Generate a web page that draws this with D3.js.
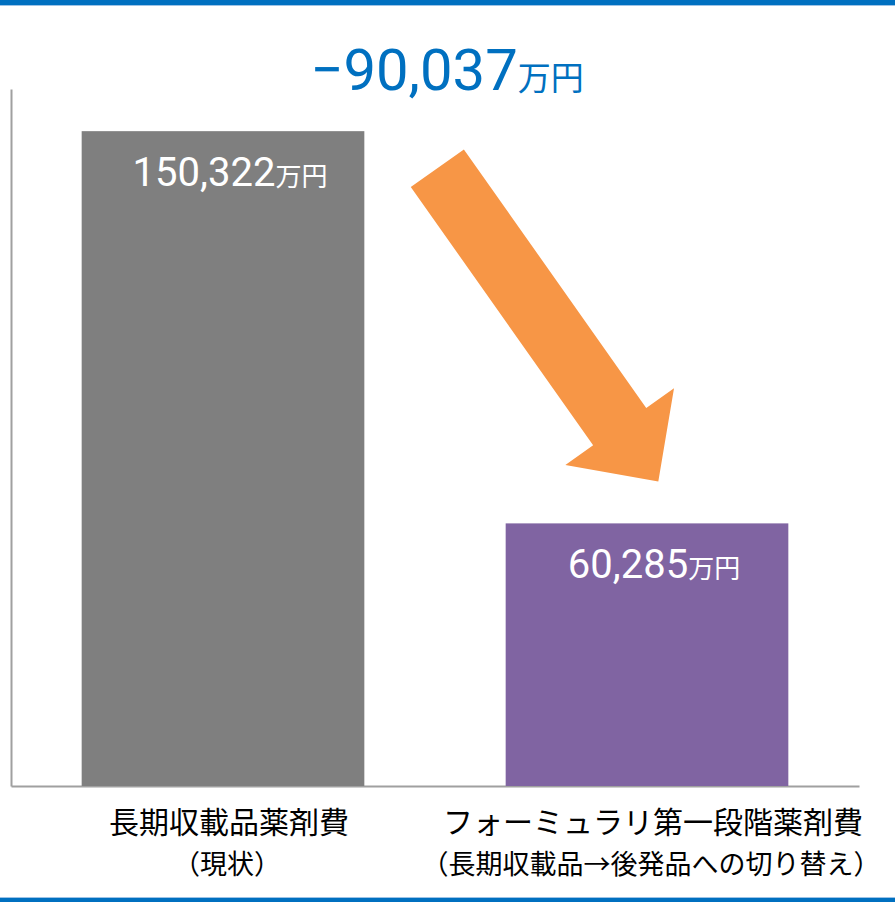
<!DOCTYPE html>
<html lang="ja">
<head>
<meta charset="utf-8">
<script src="https://cdn.jsdelivr.net/npm/d3@7"></script>
<style>
  html, body { margin: 0; padding: 0; background: #fff; }
  svg { display: block; }
</style>
</head>
<body>
<svg id="chart" width="895" height="902"></svg>
<script>
// Drug cost before and after the first formulary stage (unit: 万円)
const categories = ["長期収載品薬剤費", "フォーミュラリ第一段階薬剤費"];
const subLabels = ["（現状）", "（長期収載品→後発品への切り替え）"];
const costs = [150322, 60285];
const barColors = ["#7f7f7f", "#8064a2"];
const unit = "万円";
const yMax = 160000;

const W = 895, H = 902;
const svg = d3.select("#chart");
const fmt = d3.format(",");
const numFont = "Roboto, 'Liberation Sans', Arial, sans-serif";
const cjkFont = "'Noto Sans CJK JP', 'Noto Sans', sans-serif";
const blue = "#0070c0";

// Top and bottom rules
[[0, 5], [H - 4, 4]].forEach(([y, h], i) => {
  svg.append("rect").attr("x", 0).attr("y", y).attr("width", W).attr("height", h).attr("fill", blue);
  svg.append("rect").attr("x", 0).attr("y", i === 0 ? y + h : y - 1).attr("width", W).attr("height", 1).attr("fill", "#9dc3e6");
});

const x = d3.scaleBand().domain(categories).range([11, 859]).paddingInner(1 / 3).paddingOuter(1 / 6);
const y = d3.scaleLinear().domain([0, yMax]).range([786, 89]);

// Axes (lines only)
const axisY = svg.append("g").attr("transform", "translate(11,0)")
  .call(d3.axisLeft(y).tickValues([]).tickSizeOuter(0));
const axisX = svg.append("g").attr("transform", "translate(0,786)")
  .call(d3.axisBottom(x).tickValues([]).tickSizeOuter(0));
[axisY, axisX].forEach(g => g.select(".domain").attr("stroke", "#a0a0a0").attr("stroke-width", 2));

// Bars
svg.append("g").selectAll("rect").data(categories).join("rect")
  .attr("x", d => x(d))
  .attr("y", (d, i) => y(costs[i]))
  .attr("width", x.bandwidth())
  .attr("height", (d, i) => y(0) - y(costs[i]))
  .attr("fill", (d, i) => barColors[i]);

// Value labels inside bars
const valueLabels = svg.append("g").selectAll("text").data(categories).join("text")
  .attr("x", d => x(d) + x.bandwidth() / 2 + 7)
  .attr("y", (d, i) => y(costs[i]) + 55)
  .attr("text-anchor", "middle")
  .attr("fill", "#fff");
valueLabels.append("tspan")
  .attr("font-family", numFont).attr("font-size", 40)
  .text((d, i) => fmt(costs[i]));
valueLabels.append("tspan")
  .attr("font-family", cjkFont).attr("font-size", 26)
  .text(unit);

// Category labels, two lines each
const catLabels = svg.append("g").selectAll("text").data(categories).join("text")
  .attr("text-anchor", "middle")
  .attr("font-family", cjkFont)
  .attr("fill", "#000");
catLabels.append("tspan")
  .attr("x", d => x(d) + x.bandwidth() / 2 + 6)
  .attr("y", 833)
  .attr("font-size", 30)
  .text(d => d);
catLabels.append("tspan")
  .attr("x", d => x(d) + x.bandwidth() / 2 + 4)
  .attr("y", 874)
  .attr("font-size", 27)
  .text((d, i) => subLabels[i]);

// Difference headline
const diff = costs[1] - costs[0];
const head = svg.append("text")
  .attr("x", 447).attr("y", 90)
  .attr("text-anchor", "middle")
  .attr("fill", blue);
head.append("tspan").attr("font-family", numFont).attr("font-size", 58).text(fmt(diff));
head.append("tspan").attr("font-family", cjkFont).attr("font-size", 33).text(unit);

// Block arrow from the first bar down to the second
const tail = [x(categories[0]) + x.bandwidth() + 73, y(costs[0]) + 37];
const tip = [x(categories[1]) + x.bandwidth() * 0.54, y(costs[1]) - 42];
const shaftW = 65, headW = 133, headL = 67;
const dx = tip[0] - tail[0], dy = tip[1] - tail[1];
const len = Math.hypot(dx, dy);
const ux = dx / len, uy = dy / len, nx = -uy, ny = ux;
const base = [tip[0] - ux * headL, tip[1] - uy * headL];
const pt = (p, n) => [p[0] + nx * n, p[1] + ny * n];
const arrowPts = [
  pt(tail, shaftW / 2), pt(base, shaftW / 2), pt(base, headW / 2),
  tip,
  pt(base, -headW / 2), pt(base, -shaftW / 2), pt(tail, -shaftW / 2)
];
svg.append("path")
  .attr("d", d3.line()(arrowPts) + "Z")
  .attr("fill", "#f79646");
</script>
</body>
</html>
